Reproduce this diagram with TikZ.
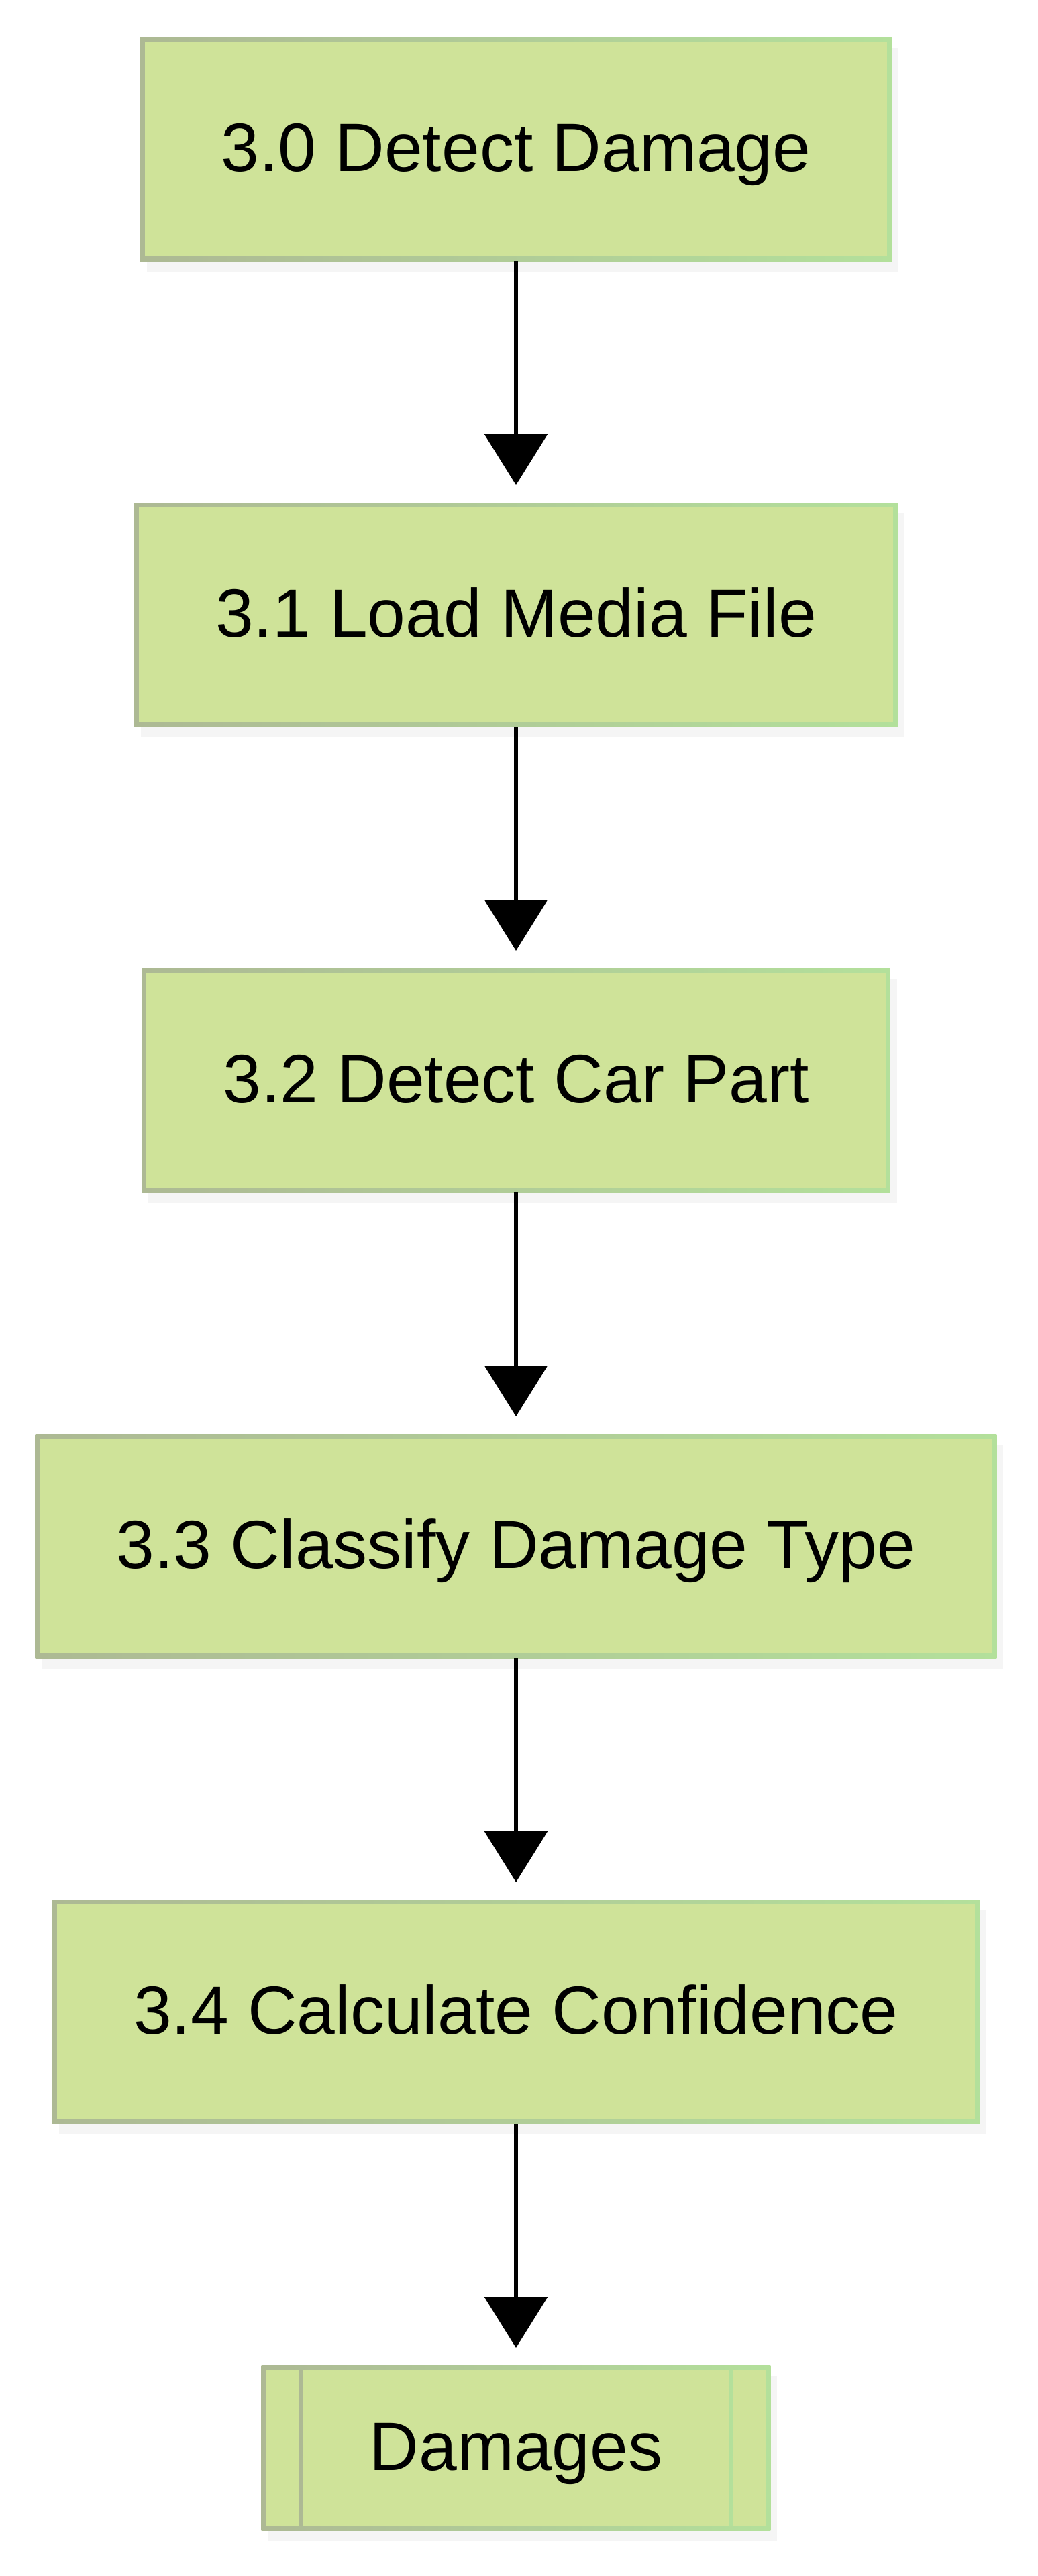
\documentclass[tikz,border=0pt]{standalone}
\usepackage{fontspec}
\setmainfont{Liberation Sans}
\usetikzlibrary{arrows.meta, positioning, shadows}

\definecolor{boxfill}{RGB}{207,227,153}
\definecolor{edgeleft}{RGB}{173,185,148}
\definecolor{edgeright}{RGB}{179,224,155}

\begin{document}
\begin{tikzpicture}[x=1pt, y=1pt, node distance=180pt,
    procbox/.style={rectangle, outer sep=0pt, inner xsep=60.5pt, inner ysep=0pt,
        minimum height=167pt, text height=33pt, text depth=0pt,
        left color=edgeleft, right color=edgeright,
        font=\fontsize{51}{61}\selectfont,
        drop shadow={shadow xshift=5pt, shadow yshift=-8pt, opacity=0.08},
        path picture={\fill[boxfill] ([shift={(3.5pt,3.5pt)}]path picture bounding box.south west)
            rectangle ([shift={(-3.5pt,-3.5pt)}]path picture bounding box.north east);}},
    storebox/.style={procbox, inner xsep=80.5pt, minimum height=123pt},
    flow/.style={line width=3pt, -{Triangle[width=46.5pt, length=38pt]}, shorten >=13pt}]

    \useasboundingbox (0,0) rectangle (773.5,-1919.5);

    % Process steps
    \node[procbox] (detect) at (384.5,-111) {3.0 Detect Damage};
    \node[procbox, below=of detect] (load) {3.1 Load Media File};
    \node[procbox, below=of load] (part) {3.2 Detect Car Part};
    \node[procbox, below=of part] (classify) {3.3 Classify Damage Type};
    \node[procbox, below=of classify] (confidence) {3.4 Calculate Confidence};

    % Output store
    \node[storebox, below=of confidence] (damages) {Damages};
    \draw[line width=3pt, edgeleft] ([shift={(29.5pt,-3.5pt)}]damages.north west) -- ([shift={(29.5pt,3.5pt)}]damages.south west);
    \draw[line width=3pt, edgeright] ([shift={(-29.5pt,-3.5pt)}]damages.north east) -- ([shift={(-29.5pt,3.5pt)}]damages.south east);

    % Flow
    \draw[flow] (detect) -- (load);
    \draw[flow] (load) -- (part);
    \draw[flow] (part) -- (classify);
    \draw[flow] (classify) -- (confidence);
    \draw[flow] (confidence) -- (damages);
\end{tikzpicture}
\end{document}
